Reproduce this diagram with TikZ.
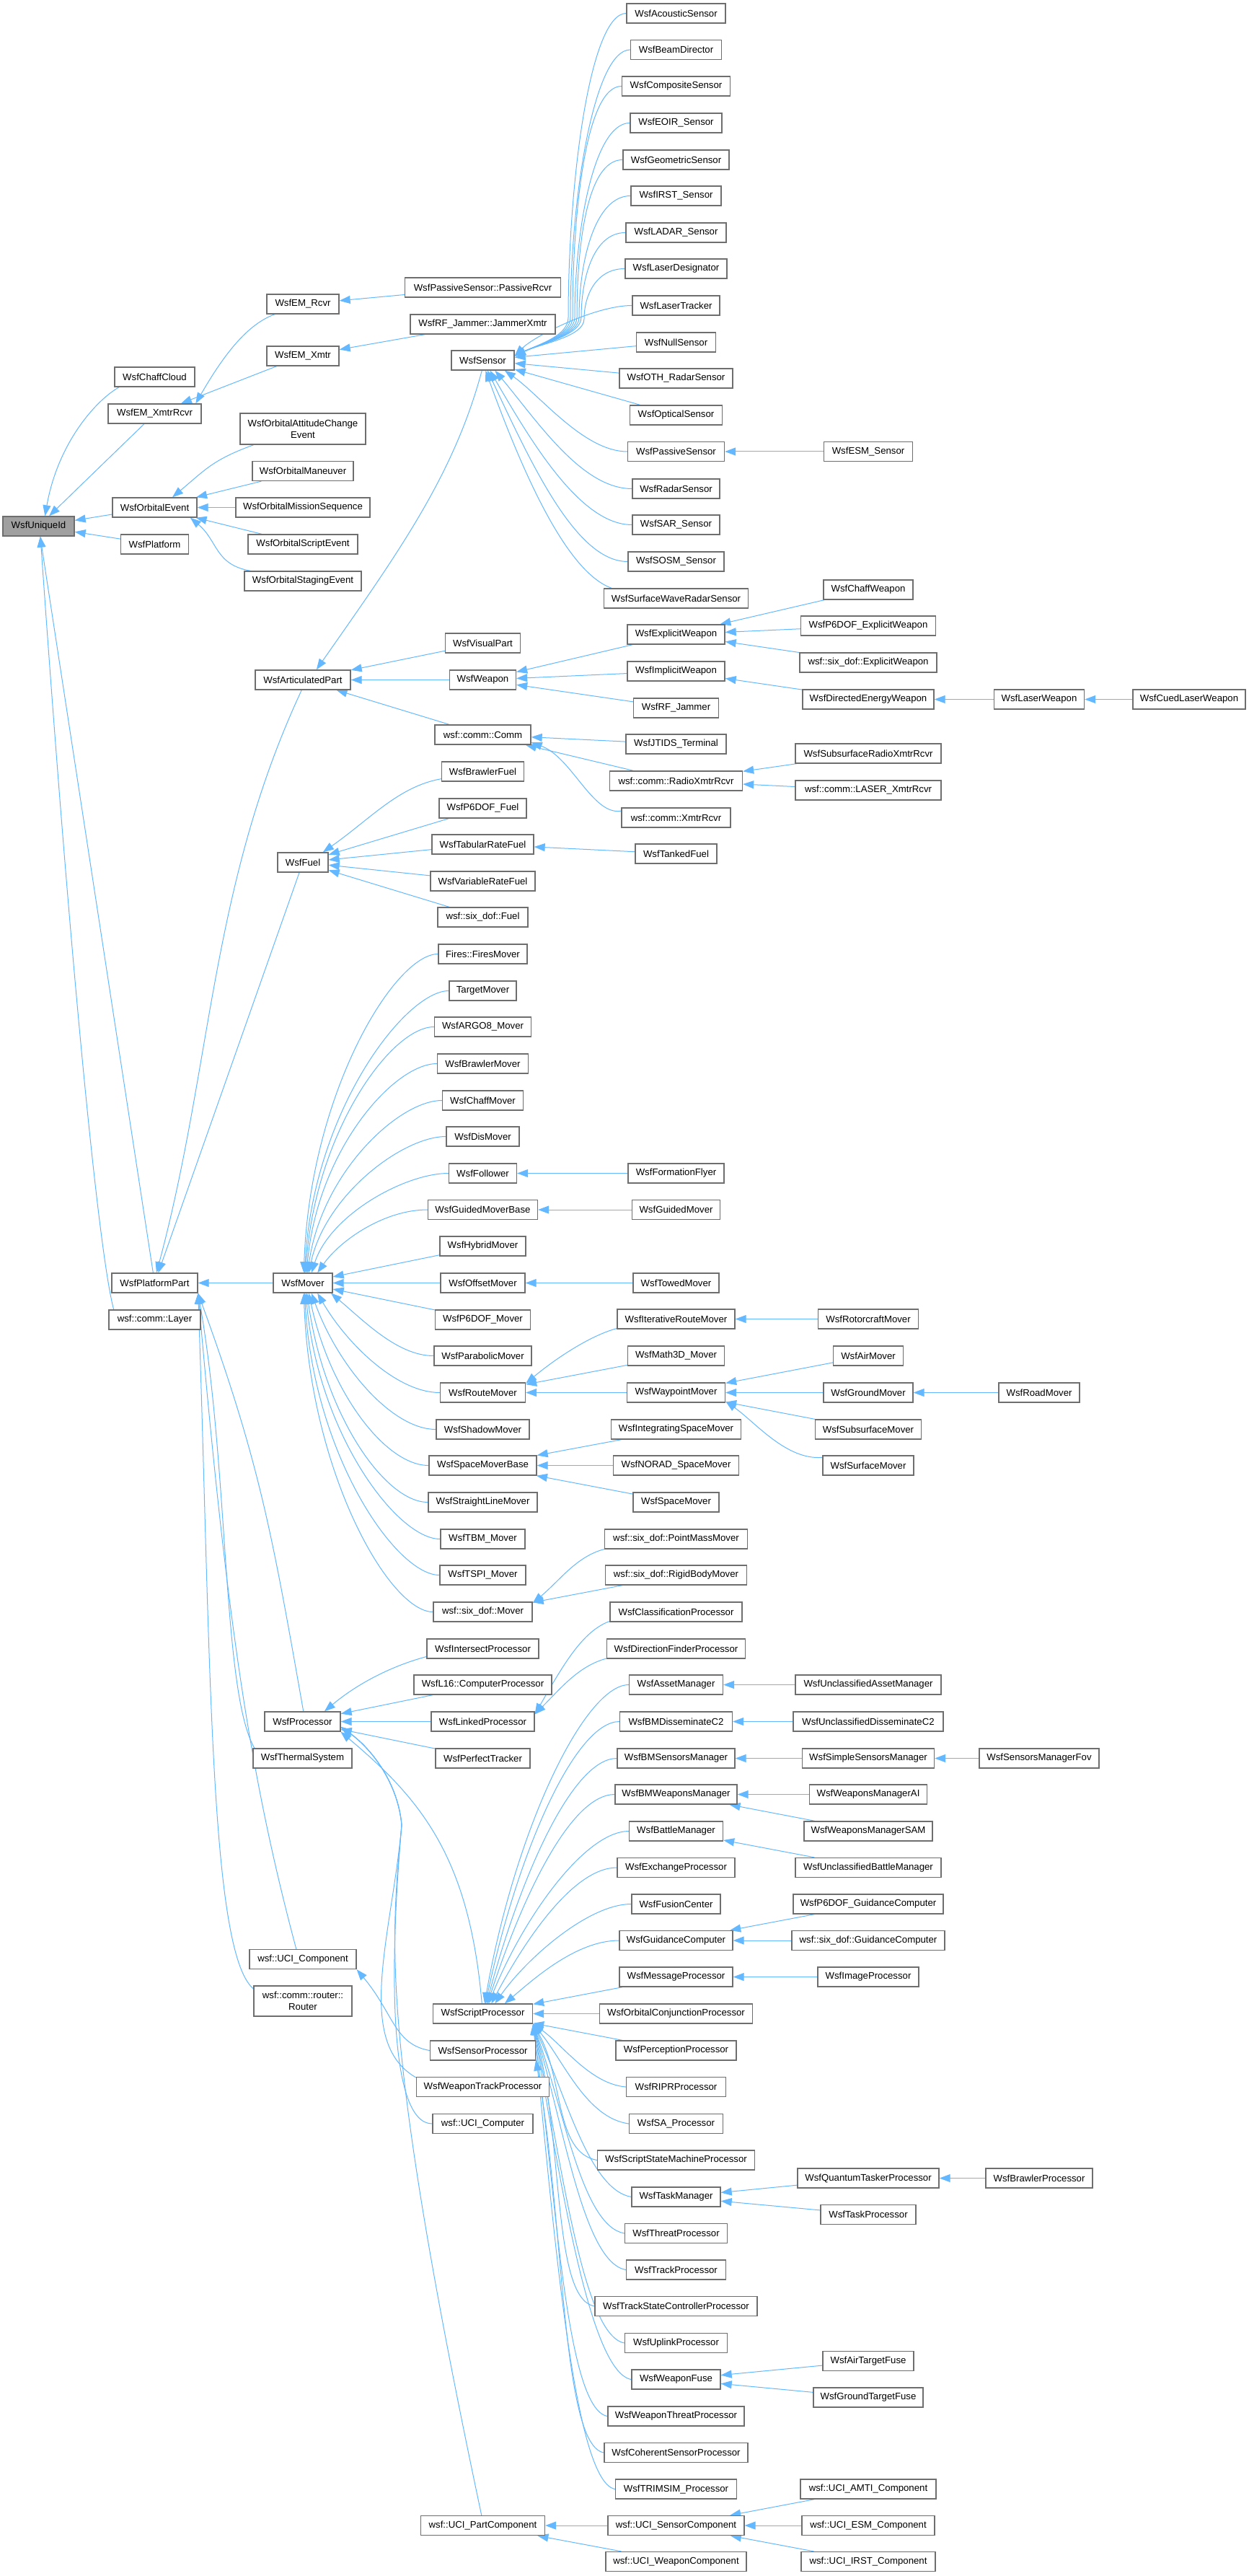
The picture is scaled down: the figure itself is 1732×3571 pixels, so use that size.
\documentclass[tikz,border=0pt]{standalone}
\usepackage{fontspec}
\setmainfont{Liberation Sans}
\usetikzlibrary{arrows.meta}
\definecolor{ecol}{HTML}{63B8FF}
\definecolor{bcol}{HTML}{6E6E6E}
\definecolor{ucol}{HTML}{A0A0A0}
\tikzset{
 box/.style={draw=bcol, line width=0.33pt, fill=white, minimum height=6.75pt, inner sep=0pt, font=\fontsize{3.3pt}{4pt}\selectfont, text=black, align=center},
 inh/.style={draw=ecol, line width=0.25pt, -{Triangle[length=3.75pt,width=2.75pt]}},
 inhs/.style={draw=ecol, line width=0.25pt, {Triangle[length=3.75pt,width=2.75pt]}-},
}
\newcommand\nd[5]{\node[box,minimum width=#4*0.25pt] (#1) at (#2,-#3) {#5};}
\newcommand\es[2]{\draw[inh] (#1) -- (#2);}
\newcommand\ec[6]{\draw[inh] (#1) .. controls +(#3:#5) and +(#4:#6) .. (#2);}
\newcommand\esw[4]{\draw[inh] (#1.west) .. controls +(180:#4) and +(90:#3) .. (#2) .. controls +(270:25) and +(25:40) .. (sensor.8);}
\pgfdeclarelayer{bg}
\pgfsetlayers{bg,main}
\begin{document}
\begin{tikzpicture}[x=0.25pt,y=0.25pt]
\useasboundingbox (0,0) rectangle (1732,-3571);
% column 0
\node[box,fill=ucol,minimum width=99*0.25pt] (uid) at (53.5,-729.5) {WsfUniqueId};
% column 1
\nd{chaffcloud}{214.5}{522.5}{111}{WsfChaffCloud}
\nd{emxr}{214.5}{573.5}{129}{WsfEM\_XmtrRcvr}
\nd{orbev}{214.5}{703.5}{117}{WsfOrbitalEvent}
\nd{platform}{214.5}{754.5}{94}{WsfPlatform}
\nd{ppart}{214.5}{1778.5}{119}{WsfPlatformPart}
\nd{layer}{214.5}{1829.5}{127}{wsf::comm::Layer}
% column 2
\nd{emr}{420}{421.5}{100}{WsfEM\_Rcvr}
\nd{emx}{420}{493.5}{100}{WsfEM\_Xmtr}
\node[box,minimum width=174*0.25pt,minimum height=10.75pt] (oace) at (420,-594.5) {WsfOrbitalAttitudeChange\\Event};
\nd{oman}{420}{653}{140}{WsfOrbitalManeuver}
\nd{omis}{420}{703.5}{186}{WsfOrbitalMissionSequence}
\nd{oscr}{420}{754.5}{152}{WsfOrbitalScriptEvent}
\nd{ostg}{420}{805.5}{162}{WsfOrbitalStagingEvent}
\nd{artp}{420}{942.5}{132}{WsfArticulatedPart}
\nd{fuel}{420}{1195.5}{70}{WsfFuel}
\nd{mover}{420}{1778.5}{82}{WsfMover}
\nd{proc}{419.5}{2386.5}{105}{WsfProcessor}
\nd{therm}{419.5}{2437.5}{137}{WsfThermalSystem}
\nd{ucic}{420}{2716}{148}{wsf::UCI\_Component}
\node[box,minimum width=136*0.25pt,minimum height=10.5pt] (router) at (420,-2774) {wsf::comm::router::\\Router};
% column 3
\nd{prcvr}{669.5}{398.5}{216}{WsfPassiveSensor::PassiveRcvr}
\nd{jxmtr}{669.5}{449.5}{201}{WsfRF\_Jammer::JammerXmtr}
\nd{sensor}{669.5}{499.5}{87}{WsfSensor}
\nd{visual}{669.5}{891.5}{104}{WsfVisualPart}
\nd{weapon}{669.5}{942.5}{92}{WsfWeapon}
\nd{comm}{669.5}{1018.5}{133}{wsf::comm::Comm}
\nd{bfuel}{669.5}{1069.5}{114}{WsfBrawlerFuel}
\nd{p6fuel}{669.5}{1120.5}{121}{WsfP6DOF\_Fuel}
\nd{tabfuel}{669.5}{1170.5}{141}{WsfTabularRateFuel}
\nd{varfuel}{669.5}{1221.5}{145}{WsfVariableRateFuel}
\nd{sdfuel}{669.5}{1271.5}{125}{wsf::six\_dof::Fuel}
\nd{fires}{669.5}{1322.5}{123}{Fires::FiresMover}
\nd{target}{669.5}{1373.5}{93}{TargetMover}
\nd{argo}{669.5}{1423.5}{134}{WsfARGO8\_Mover}
\nd{bmover}{669.5}{1474.5}{126}{WsfBrawlerMover}
\nd{chmover}{669.5}{1525.5}{112}{WsfChaffMover}
\nd{dis}{669.5}{1575.5}{101}{WsfDisMover}
\nd{follower}{669.5}{1626.5}{94}{WsfFollower}
\nd{gmb}{669.5}{1677}{152}{WsfGuidedMoverBase}
\nd{hybrid}{669.5}{1727.5}{119}{WsfHybridMover}
\nd{offset}{669.5}{1778.5}{117}{WsfOffsetMover}
\nd{p6mover}{669.5}{1829.5}{132}{WsfP6DOF\_Mover}
\nd{parab}{669.5}{1879.5}{135}{WsfParabolicMover}
\nd{route}{669.5}{1930.5}{118}{WsfRouteMover}
\nd{shadow}{669.5}{1981.5}{129}{WsfShadowMover}
\nd{smb}{669.5}{2031.5}{149}{WsfSpaceMoverBase}
\nd{straight}{669.5}{2082.5}{151}{WsfStraightLineMover}
\nd{tbm}{669.5}{2133.5}{117}{WsfTBM\_Mover}
\nd{tspi}{669.5}{2183.5}{119}{WsfTSPI\_Mover}
\nd{sdmover}{669.5}{2234.5}{137}{wsf::six\_dof::Mover}
\nd{intersect}{669.5}{2285.5}{155}{WsfIntersectProcessor}
\nd{l16}{669.5}{2335.5}{191}{WsfL16::ComputerProcessor}
\nd{linked}{669.5}{2386.5}{143}{WsfLinkedProcessor}
\nd{perfect}{669.5}{2437.5}{131}{WsfPerfectTracker}
\nd{script}{669.5}{2791.5}{138}{WsfScriptProcessor}
\nd{sensproc}{669.5}{2842.5}{146}{WsfSensorProcessor}
\nd{wtp}{669.5}{2893}{184}{WsfWeaponTrackProcessor}
\nd{ucicomp}{669.5}{2944}{139}{wsf::UCI\_Computer}
\nd{ucipart}{669.5}{3501}{172}{wsf::UCI\_PartComponent}
% column 4
\nd{acoustic}{937.5}{18.5}{137}{WsfAcousticSensor}
\nd{beam}{937.5}{69}{126}{WsfBeamDirector}
\nd{composite}{937.5}{119.5}{150}{WsfCompositeSensor}
\nd{eoir}{937.5}{170.5}{127}{WsfEOIR\_Sensor}
\nd{geometric}{937.5}{221.5}{147}{WsfGeometricSensor}
\nd{irst}{937.5}{271.5}{125}{WsfIRST\_Sensor}
\nd{ladar}{937.5}{322.5}{139}{WsfLADAR\_Sensor}
\nd{ldes}{937.5}{372.5}{141}{WsfLaserDesignator}
\nd{ltrack}{937.5}{423.5}{121}{WsfLaserTracker}
\nd{nulls}{937.5}{474.5}{110}{WsfNullSensor}
\nd{oth}{937.5}{524.5}{157}{WsfOTH\_RadarSensor}
\nd{optical}{937.5}{575.5}{128}{WsfOpticalSensor}
\nd{passive}{937.5}{626}{134}{WsfPassiveSensor}
\nd{radar}{937.5}{677.5}{121}{WsfRadarSensor}
\nd{sar}{937.5}{727.5}{121}{WsfSAR\_Sensor}
\nd{sosm}{937.5}{778.5}{133}{WsfSOSM\_Sensor}
\nd{swave}{937.5}{829.5}{200}{WsfSurfaceWaveRadarSensor}
\nd{explicit}{937.5}{879.5}{135}{WsfExplicitWeapon}
\nd{implicit}{937.5}{930.5}{135}{WsfImplicitWeapon}
\nd{rfj}{937.5}{981.5}{118}{WsfRF\_Jammer}
\nd{jtids}{937.5}{1031.5}{139}{WsfJTIDS\_Terminal}
\nd{radio}{937.5}{1082.5}{184}{wsf::comm::RadioXmtrRcvr}
\nd{xr}{937.5}{1133.5}{151}{wsf::comm::XmtrRcvr}
\nd{tanked}{937.5}{1183.5}{113}{WsfTankedFuel}
\nd{formation}{937.5}{1626.5}{133}{WsfFormationFlyer}
\nd{guided}{937.5}{1677}{122}{WsfGuidedMover}
\nd{towed}{937.5}{1778.5}{119}{WsfTowedMover}
\nd{iter}{937.5}{1828.5}{163}{WsfIterativeRouteMover}
\nd{math3d}{937.5}{1879.5}{134}{WsfMath3D\_Mover}
\nd{waypoint}{937.5}{1930.5}{136}{WsfWaypointMover}
\nd{integ}{937.5}{1981.5}{180}{WsfIntegratingSpaceMover}
\nd{norad}{937.5}{2031.5}{174}{WsfNORAD\_SpaceMover}
\nd{spacem}{937.5}{2082.5}{119}{WsfSpaceMover}
\nd{pmm}{937.5}{2133.5}{198}{wsf::six\_dof::PointMassMover}
\nd{rbm}{937.5}{2183.5}{196}{wsf::six\_dof::RigidBodyMover}
\nd{classif}{937.5}{2234.5}{183}{WsfClassificationProcessor}
\nd{dirf}{937.5}{2285.5}{192}{WsfDirectionFinderProcessor}
\nd{asset}{937.5}{2335.5}{130}{WsfAssetManager}
\nd{bmdc2}{937.5}{2386.5}{156}{WsfBMDisseminateC2}
\nd{bmsm}{937.5}{2437.5}{163}{WsfBMSensorsManager}
\nd{bmwm}{937.5}{2487.5}{169}{WsfBMWeaponsManager}
\nd{battle}{937.5}{2538.5}{130}{WsfBattleManager}
\nd{exch}{937.5}{2589}{163}{WsfExchangeProcessor}
\nd{fusion}{937.5}{2639.5}{123}{WsfFusionCenter}
\nd{guid}{937.5}{2690}{157}{WsfGuidanceComputer}
\nd{msg}{937.5}{2740.5}{157}{WsfMessageProcessor}
\nd{orbconj}{937.5}{2791.5}{212}{WsfOrbitalConjunctionProcessor}
\nd{percep}{937.5}{2842.5}{167}{WsfPerceptionProcessor}
\nd{ripr}{937.5}{2893}{138}{WsfRIPRProcessor}
\nd{sa}{937.5}{2944}{130}{WsfSA\_Processor}
\nd{ssm}{937.5}{2994.5}{218}{WsfScriptStateMachineProcessor}
\nd{taskm}{937.5}{3045.5}{123}{WsfTaskManager}
\nd{threat}{937.5}{3096}{142}{WsfThreatProcessor}
\nd{track}{937.5}{3146.5}{138}{WsfTrackProcessor}
\nd{tsc}{937.5}{3197}{225}{WsfTrackStateControllerProcessor}
\nd{uplink}{937.5}{3248}{142}{WsfUplinkProcessor}
\nd{wfuse}{937.5}{3298.5}{123}{WsfWeaponFuse}
\nd{wthreat}{937.5}{3349.5}{189}{WsfWeaponThreatProcessor}
\nd{coherent}{937.5}{3400}{199}{WsfCoherentSensorProcessor}
\nd{trimsim}{937.5}{3450.5}{168}{WsfTRIMSIM\_Processor}
\nd{ucisens}{937.5}{3501}{189}{wsf::UCI\_SensorComponent}
\nd{uciweap}{937.5}{3551}{195}{wsf::UCI\_WeaponComponent}
% column 5
\nd{esm}{1204}{626}{123}{WsfESM\_Sensor}
\nd{chaffw}{1204}{817.5}{124}{WsfChaffWeapon}
\nd{p6ew}{1204}{867.5}{187}{WsfP6DOF\_ExplicitWeapon}
\nd{sdew}{1204}{918.5}{190}{wsf::six\_dof::ExplicitWeapon}
\nd{dew}{1204}{969.5}{182}{WsfDirectedEnergyWeapon}
\nd{subradio}{1204}{1044.5}{202}{WsfSubsurfaceRadioXmtrRcvr}
\nd{laser}{1204}{1095.5}{202}{wsf::comm::LASER\_XmtrRcvr}
\nd{rotor}{1204}{1828.5}{139}{WsfRotorcraftMover}
\nd{air}{1204}{1879.5}{97}{WsfAirMover}
\nd{ground}{1204}{1930.5}{124}{WsfGroundMover}
\nd{subsm}{1204}{1981.5}{147}{WsfSubsurfaceMover}
\nd{surfm}{1204}{2031.5}{126}{WsfSurfaceMover}
\nd{uasset}{1204}{2335.5}{202}{WsfUnclassifiedAssetManager}
\nd{udc2}{1204}{2386.5}{208}{WsfUnclassifiedDisseminateC2}
\nd{ssm2}{1204}{2437.5}{183}{WsfSimpleSensorsManager}
\nd{wmai}{1204}{2487.5}{163}{WsfWeaponsManagerAI}
\nd{wmsam}{1204}{2538.5}{178}{WsfWeaponsManagerSAM}
\nd{ubattle}{1204}{2589}{202}{WsfUnclassifiedBattleManager}
\nd{p6gc}{1204}{2639.5}{208}{WsfP6DOF\_GuidanceComputer}
\nd{sdgc}{1204}{2690}{212}{wsf::six\_dof::GuidanceComputer}
\nd{image}{1204}{2740.5}{140}{WsfImageProcessor}
\nd{qtp}{1204}{3019.5}{196}{WsfQuantumTaskerProcessor}
\nd{taskp}{1204}{3070}{132}{WsfTaskProcessor}
\nd{airfuse}{1204}{3273}{126}{WsfAirTargetFuse}
\nd{gfuse}{1204}{3323.5}{152}{WsfGroundTargetFuse}
\nd{amti}{1204}{3450.5}{188}{wsf::UCI\_AMTI\_Component}
\nd{esmc}{1204}{3501}{184}{wsf::UCI\_ESM\_Component}
\nd{irstc}{1204}{3551}{186}{wsf::UCI\_IRST\_Component}
% column 6 and 7
\nd{laserw}{1441}{969.5}{125}{WsfLaserWeapon}
\nd{road}{1441}{1930.5}{112}{WsfRoadMover}
\nd{fov}{1441}{2437.5}{166}{WsfSensorsManagerFov}
\nd{brawlp}{1441}{3019.5}{148}{WsfBrawlerProcessor}
\nd{cued}{1649}{969.5}{156}{WsfCuedLaserWeapon}
\coordinate (bw) at (557,-2530);
\coordinate (w1) at (788,-440);
\coordinate (w2) at (791,-440);
\coordinate (w3) at (794,-440);
\coordinate (w4) at (797,-440);
\coordinate (w5) at (800,-440);
\coordinate (w6) at (803,-440);
\coordinate (w7) at (806,-440);
\coordinate (w8) at (810,-442);
\begin{pgfonlayer}{bg}
% WsfUniqueId
\ec{chaffcloud.196}{uid.58}{210}{80}{40}{100}
\es{emxr}{uid}
\es{orbev}{uid}
\es{platform}{uid}
\es{ppart}{uid}
\ec{layer.166}{uid.280}{105}{274}{80}{600}
% EM
\ec{emr.200}{emxr.14}{200}{60}{40}{80}
\es{emx}{emxr}
\es{prcvr}{emr}
\es{jxmtr}{emx}
% orbital
\ec{oace.198}{orbev.30}{200}{40}{60}{60}
\es{oman}{orbev}
\es{omis}{orbev}
\es{oscr}{orbev}
\ec{ostg.169}{orbev.344}{170}{320}{50}{50}
% platform part
\ec{artp.263}{ppart.80}{245}{75}{300}{300}
\es{fuel}{ppart}
\es{mover}{ppart}
\ec{proc.85}{ppart.south east}{100}{290}{250}{250}
\ec{therm.168}{ppart.south east}{120}{280}{90}{250}
\ec{ucic.123}{ppart.south east}{105}{275}{250}{450}
\ec{router.166}{ppart.south east}{140}{272}{80}{500}
% sensor
\ec{sensor.265}{artp.37}{255}{55}{150}{200}
\esw{acoustic}{w1}{190}{50}
\esw{beam}{w2}{167}{50}
\esw{composite}{w3}{144}{50}
\esw{eoir}{w4}{121}{50}
\esw{geometric}{w5}{98}{50}
\esw{irst}{w6}{76}{50}
\esw{ladar}{w7}{53}{45}
\esw{ldes}{w8}{32}{40}
\ec{ltrack.west}{sensor.8}{180}{45}{50}{40}
\es{nulls}{sensor}
\es{oth}{sensor}
\es{optical}{sensor}
\ec{passive.west}{sensor.335}{180}{325}{60}{60}
\ec{radar.west}{sensor.320}{180}{310}{70}{90}
\ec{sar.west}{sensor.305}{180}{300}{70}{120}
\ec{sosm.west}{sensor.295}{180}{295}{70}{150}
\ec{swave.171}{sensor.285}{160}{290}{60}{180}
\es{esm}{passive}
% weapons, comm
\es{visual}{artp}
\es{weapon}{artp}
\es{comm}{artp}
\es{explicit}{weapon}
\es{implicit}{weapon}
\es{rfj}{weapon}
\es{chaffw}{explicit}
\es{p6ew}{explicit}
\es{sdew}{explicit}
\es{dew}{implicit}
\es{laserw}{dew}
\es{cued}{laserw}
\es{jtids}{comm}
\es{radio}{comm}
\ec{xr.173}{comm.351}{190}{340}{40}{60}
\es{subradio}{radio}
\es{laser}{radio}
% fuel
\ec{bfuel.190}{fuel.27}{190}{35}{60}{80}
\es{p6fuel}{fuel}
\es{tabfuel}{fuel}
\es{varfuel}{fuel}
\es{sdfuel}{fuel}
\es{tanked}{tabfuel}
% mover
\ec{fires.west}{mover.85}{180}{88}{60}{250}
\ec{target.west}{mover.80}{180}{87}{60}{225}
\ec{argo.west}{mover.75}{180}{86}{60}{195}
\ec{bmover.west}{mover.70}{180}{85}{60}{170}
\ec{chmover.west}{mover.65}{180}{82}{60}{140}
\ec{dis.west}{mover.60}{180}{78}{60}{110}
\ec{follower.west}{mover.50}{180}{72}{60}{85}
\ec{gmb.west}{mover.35}{180}{55}{60}{55}
\es{hybrid}{mover}
\es{offset}{mover}
\es{p6mover}{mover}
\ec{parab.west}{mover.340}{180}{320}{50}{60}
\ec{route.west}{mover.325}{180}{300}{60}{80}
\ec{shadow.west}{mover.310}{180}{290}{60}{110}
\ec{smb.west}{mover.300}{180}{282}{60}{140}
\ec{straight.west}{mover.292}{180}{278}{60}{170}
\ec{tbm.west}{mover.286}{180}{275}{60}{195}
\ec{tspi.west}{mover.280}{180}{273}{60}{225}
\ec{sdmover.west}{mover.275}{180}{272}{60}{250}
\es{formation}{follower}
\es{guided}{gmb}
\es{towed}{offset}
\ec{iter.189}{route.12}{195}{40}{40}{50}
\es{math3d}{route}
\es{waypoint}{route}
\es{rotor}{iter}
\es{air}{waypoint}
\es{ground}{waypoint}
\es{subsm}{waypoint}
\ec{surfm.170}{waypoint.350}{185}{325}{50}{50}
\es{road}{ground}
\es{integ}{smb}
\es{norad}{smb}
\es{spacem}{smb}
\ec{pmm.188}{sdmover.10}{195}{40}{40}{50}
\es{rbm}{sdmover}
% processor
\ec{intersect.188}{proc.25}{195}{40}{50}{60}
\es{l16}{proc}
\es{linked}{proc}
\es{perfect}{proc}
\ec{script.95}{proc.345}{95}{320}{200}{150}
\draw[inhs] (proc.352) .. controls +(-35:50) and +(95:60) .. (bw) .. controls +(-95:150) and +(150:100) .. (wtp.172);
\draw[inhs] (proc.352) .. controls +(-35:50) and +(95:60) .. (bw) .. controls +(-95:200) and +(180:60) .. (ucicomp.west);
\draw[inhs] (proc.352) .. controls +(-35:50) and +(95:60) .. (bw) .. controls +(-95:150) and +(102:700) .. (ucipart.97);
\ec{classif.188}{linked.8}{200}{60}{40}{80}
\ec{dirf.188}{linked.8}{195}{45}{40}{50}
\ec{sensproc.west}{ucic.south east}{170}{310}{50}{80}
% script processor
\ec{asset.west}{script.80}{180}{80}{60}{250}
\ec{bmdc2.west}{script.75}{180}{78}{60}{220}
\ec{bmsm.west}{script.70}{180}{75}{60}{190}
\ec{bmwm.west}{script.65}{180}{72}{60}{160}
\ec{battle.west}{script.60}{180}{68}{60}{130}
\ec{exch.west}{script.50}{180}{62}{60}{100}
\ec{fusion.west}{script.40}{180}{55}{60}{75}
\ec{guid.west}{script.25}{180}{40}{60}{50}
\es{msg}{script}
\es{orbconj}{script}
\es{percep}{script}
\ec{ripr.west}{script.south east}{175}{325}{50}{50}
\ec{sa.west}{script.south east}{172}{310}{60}{65}
\ec{ssm.west}{script.south east}{170}{300}{60}{85}
\ec{taskm.west}{script.south east}{170}{295}{60}{105}
\ec{threat.west}{script.south east}{170}{290}{60}{125}
\ec{track.west}{script.south east}{170}{287}{60}{145}
\ec{tsc.west}{script.south east}{170}{285}{60}{165}
\ec{uplink.west}{script.south east}{170}{282}{60}{185}
\ec{wfuse.west}{script.south east}{170}{280}{60}{205}
\ec{wthreat.west}{script.south east}{170}{278}{60}{225}
\ec{trimsim.west}{script.south east}{170}{276}{60}{265}
\ec{coherent.west}{sensproc.350}{170}{280}{60}{230}
\es{uasset}{asset}
\es{udc2}{bmdc2}
\es{ssm2}{bmsm}
\es{fov}{ssm2}
\es{wmai}{bmwm}
\es{wmsam}{bmwm}
\es{ubattle}{battle}
\es{p6gc}{guid}
\es{sdgc}{guid}
\es{image}{msg}
\es{qtp}{taskm}
\es{taskp}{taskm}
\es{brawlp}{qtp}
\es{airfuse}{wfuse}
\es{gfuse}{wfuse}
\es{ucisens}{ucipart}
\es{uciweap}{ucipart}
\es{amti}{ucisens}
\es{esmc}{ucisens}
\es{irstc}{ucisens}
\end{pgfonlayer}
\end{tikzpicture}
\end{document}
